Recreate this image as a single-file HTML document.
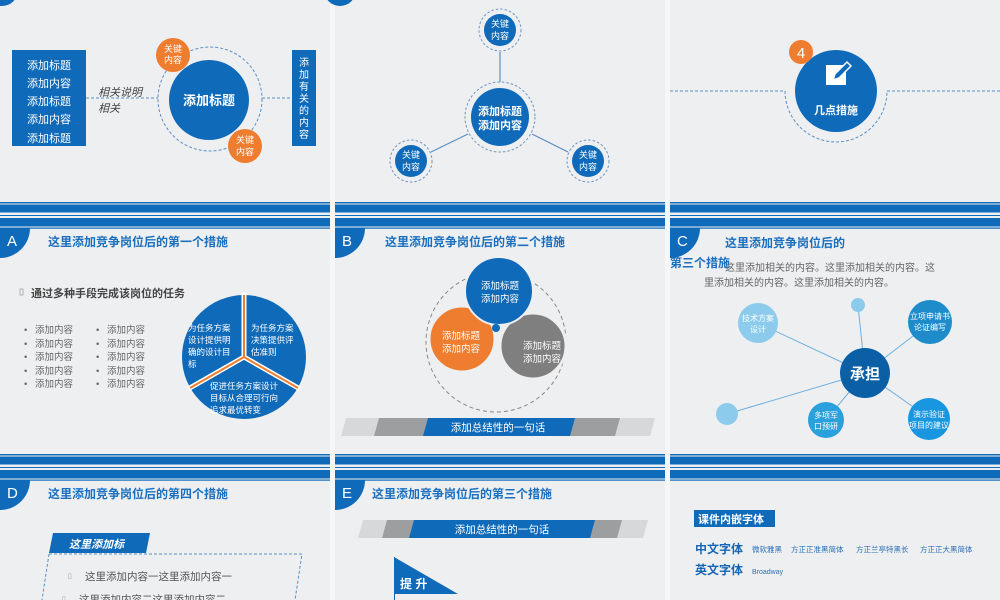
<!DOCTYPE html>
<html><head><meta charset="utf-8">
<style>
html,body{margin:0;padding:0;background:#f6f6f6;}
svg{display:block;}
text{font-family:"Liberation Sans","Noto Sans CJK SC",sans-serif;}
</style></head>
<body>
<svg width="1000" height="600" viewBox="0 0 1000 600" xmlns="http://www.w3.org/2000/svg">
<rect width="1000" height="600" fill="#f6f6f6"/>
<g fill="#eeeff1">
<rect x="0" y="0" width="330" height="600"/>
<rect x="335" y="0" width="330" height="600"/>
<rect x="670" y="0" width="330" height="600"/>
</g>
<g fill="#0f6ab9">
<g id="st1">
<rect x="0" y="202" width="330" height="1.5"/><rect x="0" y="204.5" width="330" height="8"/>
<rect x="0" y="215" width="330" height="1"/><rect x="0" y="218" width="330" height="8.5"/>
<rect x="0" y="227.5" width="330" height="1.2"/>
</g>
<use href="#st1" x="335"/><use href="#st1" x="670"/>
<use href="#st1" y="252"/><use href="#st1" x="335" y="252"/><use href="#st1" x="670" y="252"/>
</g>
<circle cx="2" cy="-10" r="16" fill="#0f6ab9"/>
<circle cx="340" cy="-10" r="16" fill="#0f6ab9"/>

<!-- Slide 1 -->
<rect x="12" y="50" width="74" height="96" fill="#0f6ab9"/>
<g fill="#fff" font-size="11" text-anchor="middle">
<text x="49" y="69">添加标题</text><text x="49" y="87">添加内容</text><text x="49" y="105">添加标题</text><text x="49" y="123">添加内容</text><text x="49" y="142">添加标题</text>
</g>
<line x1="86" y1="98" x2="158" y2="98" stroke="#5b8fc4" stroke-dasharray="3,2"/>
<line x1="262" y1="98" x2="292" y2="98" stroke="#5b8fc4" stroke-dasharray="3,2"/>
<text x="98" y="96" font-size="11" font-style="italic" fill="#444">相关说明</text>
<text x="98" y="112" font-size="11" font-style="italic" fill="#444">相关</text>
<circle cx="210" cy="99" r="52" fill="none" stroke="#5b8fc4" stroke-dasharray="3,2"/>
<circle cx="209" cy="100" r="40" fill="#0f6ab9"/>
<text x="209" y="105" font-size="13" font-weight="bold" fill="#fff" text-anchor="middle">添加标题</text>
<circle cx="173" cy="55" r="17" fill="#ee7d2f"/>
<text x="173" y="52" font-size="9" fill="#fff" text-anchor="middle">关键</text><text x="173" y="63" font-size="9" fill="#fff" text-anchor="middle">内容</text>
<circle cx="245" cy="146" r="17" fill="#ee7d2f"/>
<text x="245" y="143" font-size="9" fill="#fff" text-anchor="middle">关键</text><text x="245" y="155" font-size="9" fill="#fff" text-anchor="middle">内容</text>
<rect x="292" y="50" width="24" height="96" fill="#0f6ab9"/>
<g fill="#fff" font-size="10" text-anchor="middle">
<text x="304" y="66">添</text><text x="304" y="78">加</text><text x="304" y="90">有</text><text x="304" y="102">关</text><text x="304" y="114">的</text><text x="304" y="126">内</text><text x="304" y="138">容</text>
</g>

<!-- Slide 2 -->
<g stroke="#5b8fc4" stroke-width="1.2">
<line x1="500" y1="52" x2="500" y2="82"/><line x1="431" y1="152" x2="468" y2="134"/><line x1="568" y1="152" x2="532" y2="134"/>
</g>
<g fill="none" stroke="#6d94c0" stroke-dasharray="2.5,2">
<circle cx="500" cy="30" r="21"/><circle cx="500" cy="117" r="35"/><circle cx="411" cy="161" r="21"/><circle cx="588" cy="161" r="21"/>
</g>
<g fill="#0f6ab9">
<circle cx="500" cy="30" r="16"/><circle cx="500" cy="117" r="29"/><circle cx="411" cy="161" r="16"/><circle cx="588" cy="161" r="16"/>
</g>
<g fill="#fff" font-size="9" text-anchor="middle">
<text x="500" y="27">关键</text><text x="500" y="39">内容</text>
<text x="411" y="158">关键</text><text x="411" y="170">内容</text>
<text x="588" y="158">关键</text><text x="588" y="170">内容</text>
</g>
<text x="500" y="115" font-size="11" font-weight="bold" fill="#fff" text-anchor="middle">添加标题</text>
<text x="500" y="129" font-size="11" font-weight="bold" fill="#fff" text-anchor="middle">添加内容</text>

<!-- Slide 3 -->
<line x1="670" y1="91" x2="785" y2="91" stroke="#5b8fc4" stroke-dasharray="3,2"/>
<line x1="887" y1="91" x2="1000" y2="91" stroke="#5b8fc4" stroke-dasharray="3,2"/>
<path d="M785 91 A51 51 0 0 0 887 91" fill="none" stroke="#5b8fc4" stroke-dasharray="3,2"/>
<circle cx="836" cy="91" r="41" fill="#0f6ab9"/>
<circle cx="801" cy="52" r="12" fill="#ee7d2f"/>
<text x="801" y="58" font-size="15" fill="#fff" text-anchor="middle">4</text>
<rect x="826" y="65" width="20" height="20" fill="#fff"/>
<path d="M833 80 l2 -6 l12 -12 l4 4 l-12 12 z" fill="#0f6ab9" stroke="#fff" stroke-width="1.5"/>
<text x="836" y="114" font-size="11" font-weight="bold" fill="#fff" text-anchor="middle">几点措施</text>

<!-- badges & titles -->
<g fill="#0f6ab9">
<path d="M0 228 H30 A30 30 0 0 1 0 258 Z"/>
<path d="M335 228 H365 A30 30 0 0 1 335 258 Z"/>
<path d="M670 228 H700 A30 30 0 0 1 670 258 Z"/>
<path d="M0 480 H30 A30 30 0 0 1 0 510 Z"/>
<path d="M335 480 H365 A30 30 0 0 1 335 510 Z"/>
</g>
<g fill="#fff" font-size="15">
<text x="7" y="246">A</text><text x="342" y="246">B</text><text x="677" y="246">C</text>
<text x="7" y="498">D</text><text x="342" y="498">E</text>
</g>
<g fill="#1a6fbf" font-size="12" font-weight="bold">
<text x="48" y="246">这里添加竞争岗位后的第一个措施</text>
<text x="385" y="246">这里添加竞争岗位后的第二个措施</text>
<text x="725" y="247">这里添加竞争岗位后的</text>
<text x="670" y="267">第三个措施</text>
<text x="48" y="498">这里添加竞争岗位后的第四个措施</text>
<text x="372" y="498">这里添加竞争岗位后的第三个措施</text>
</g>

<!-- Slide A -->
<rect x="20" y="289" width="3" height="6" fill="none" stroke="#999" stroke-width="0.7"/>
<text x="31" y="297" font-size="11" font-weight="bold" fill="#444">通过多种手段完成该岗位的任务</text>
<g font-size="9.5" fill="#666">
<text x="24" y="333">•</text><text x="35" y="333">添加内容</text><text x="96" y="333">•</text><text x="107" y="333">添加内容</text>
<text x="24" y="347">•</text><text x="35" y="347">添加内容</text><text x="96" y="347">•</text><text x="107" y="347">添加内容</text>
<text x="24" y="360">•</text><text x="35" y="360">添加内容</text><text x="96" y="360">•</text><text x="107" y="360">添加内容</text>
<text x="24" y="374">•</text><text x="35" y="374">添加内容</text><text x="96" y="374">•</text><text x="107" y="374">添加内容</text>
<text x="24" y="387">•</text><text x="35" y="387">添加内容</text><text x="96" y="387">•</text><text x="107" y="387">添加内容</text>
</g>
<circle cx="244" cy="357" r="62" fill="#0f6ab9"/>
<g stroke="#fff" stroke-width="5">
<line x1="244" y1="357" x2="244" y2="293"/><line x1="244" y1="357" x2="188" y2="389"/><line x1="244" y1="357" x2="300" y2="389"/>
</g>
<g stroke="#ee7d2f" stroke-width="2">
<line x1="244" y1="357" x2="244" y2="295"/><line x1="244" y1="357" x2="190" y2="388"/><line x1="244" y1="357" x2="298" y2="388"/>
</g>
<g fill="#fff" font-size="8.5">
<text x="188" y="331">为任务方案</text><text x="188" y="343">设计提供明</text><text x="188" y="355">确的设计目</text><text x="188" y="367">标</text>
<text x="251" y="331">为任务方案</text><text x="251" y="343">决策提供评</text><text x="251" y="355">估准则</text>
<text x="210" y="389">促进任务方案设计</text><text x="210" y="401">目标从合理可行向</text><text x="210" y="413">追求最优转变</text>
</g>

<!-- Slide B -->
<circle cx="496" cy="342" r="70" fill="none" stroke="#888" stroke-dasharray="4,3"/>
<circle cx="533" cy="346" r="33" fill="#7f7f7f" stroke="#eeeff1" stroke-width="3"/>
<circle cx="462" cy="339" r="33" fill="#ee7d2f" stroke="#eeeff1" stroke-width="3"/>
<circle cx="499" cy="291" r="34" fill="#0f6ab9" stroke="#eeeff1" stroke-width="2"/>
<circle cx="496" cy="328" r="4" fill="#0f6ab9"/>
<g fill="#fff" font-size="9.5" text-anchor="middle">
<text x="500" y="289">添加标题</text><text x="500" y="302">添加内容</text>
<text x="461" y="339">添加标题</text><text x="461" y="352">添加内容</text>
<text x="542" y="349">添加标题</text><text x="542" y="362">添加内容</text>
</g>
<polygon points="346,418 655,418 650,436 341,436" fill="#d7d8da"/>
<polygon points="379,418 620,418 615,436 374,436" fill="#9d9ea0"/>
<polygon points="428,418 575,418 570,436 423,436" fill="#0f6ab9"/>
<text x="498" y="431" font-size="10.5" fill="#fff" text-anchor="middle">添加总结性的一句话</text>

<!-- Slide C -->
<g font-size="10" fill="#666">
<text x="725" y="271">这里添加相关的内容。这里添加相关的内容。这</text>
<text x="704" y="286">里添加相关的内容。这里添加相关的内容。</text>
</g>
<g stroke="#6fb0dd" stroke-width="1">
<line x1="865" y1="373" x2="758" y2="323"/><line x1="865" y1="373" x2="858" y2="305"/><line x1="865" y1="373" x2="930" y2="323"/>
<line x1="865" y1="373" x2="727" y2="414"/><line x1="865" y1="373" x2="826" y2="420"/><line x1="865" y1="373" x2="929" y2="418"/>
</g>
<circle cx="758" cy="323" r="20" fill="#8ccbec"/>
<circle cx="858" cy="305" r="7" fill="#8ccbec"/>
<circle cx="930" cy="322" r="22" fill="#1e8ccb"/>
<circle cx="727" cy="414" r="11" fill="#8ccbec"/>
<circle cx="826" cy="420" r="18" fill="#2aa0dc"/>
<circle cx="929" cy="419" r="21" fill="#1896e0"/>
<circle cx="865" cy="373" r="25" fill="#0b5fa5"/>
<text x="865" y="379" font-size="15" font-weight="bold" fill="#fff" text-anchor="middle">承担</text>
<g fill="#fff" font-size="8" text-anchor="middle">
<text x="758" y="321">技术方案</text><text x="758" y="332">设计</text>
<text x="930" y="319">立项申请书</text><text x="930" y="330">论证编写</text>
<text x="826" y="418">多项军</text><text x="826" y="429">口预研</text>
<text x="929" y="417">演示验证</text><text x="929" y="428">项目的建议</text>
</g>

<!-- Slide D -->
<polygon points="53,533 150,533 146,553 49,553" fill="#0f6ab9"/>
<text x="69" y="548" font-size="11" font-weight="bold" font-style="italic" fill="#fff">这里添加标</text>
<path d="M49 554 H302 L295 600 M49 554 L42 600" fill="none" stroke="#5b8fc4" stroke-dasharray="3,2"/>
<g font-size="10.5" fill="#555">
<text x="68" y="578" font-size="7" fill="#999">▯</text>
<text x="85" y="580">这里添加内容一这里添加内容一</text>
<text x="62" y="601" font-size="7" fill="#999">▯</text>
<text x="79" y="603">这里添加内容二这里添加内容二</text>
</g>

<!-- Slide E -->
<polygon points="363,520 648,520 643,538 358,538" fill="#d7d8da"/>
<polygon points="387,520 622,520 617,538 382,538" fill="#9d9ea0"/>
<polygon points="414,520 595,520 590,538 409,538" fill="#0f6ab9"/>
<text x="502" y="533" font-size="10.5" fill="#fff" text-anchor="middle">添加总结性的一句话</text>
<polygon points="394,557 458,594 394,594" fill="#0f6ab9"/>
<line x1="394.5" y1="557" x2="394.5" y2="600" stroke="#0f6ab9"/>
<text x="400" y="588" font-size="12" font-weight="bold" fill="#fff">提 升</text>

<!-- Slide F -->
<rect x="694" y="510" width="81" height="17" fill="#0f6ab9"/>
<text x="698" y="523" font-size="11" font-weight="bold" fill="#fff">课件内嵌字体</text>
<text x="695" y="553" font-size="12" font-weight="bold" fill="#1466b4">中文字体</text>
<text x="752" y="552" font-size="7.5" fill="#2a6fb5">微软雅黑</text>
<text x="791" y="552" font-size="7.5" fill="#2a6fb5">方正正准黑简体</text>
<text x="856" y="552" font-size="7.5" fill="#2a6fb5">方正兰亭特黑长</text>
<text x="920" y="552" font-size="7.5" fill="#2a6fb5">方正正大黑简体</text>
<text x="695" y="574" font-size="12" font-weight="bold" fill="#1466b4">英文字体</text>
<text x="752" y="574" font-size="7" fill="#2a6fb5">Broadway</text>
</svg>
</body></html>
